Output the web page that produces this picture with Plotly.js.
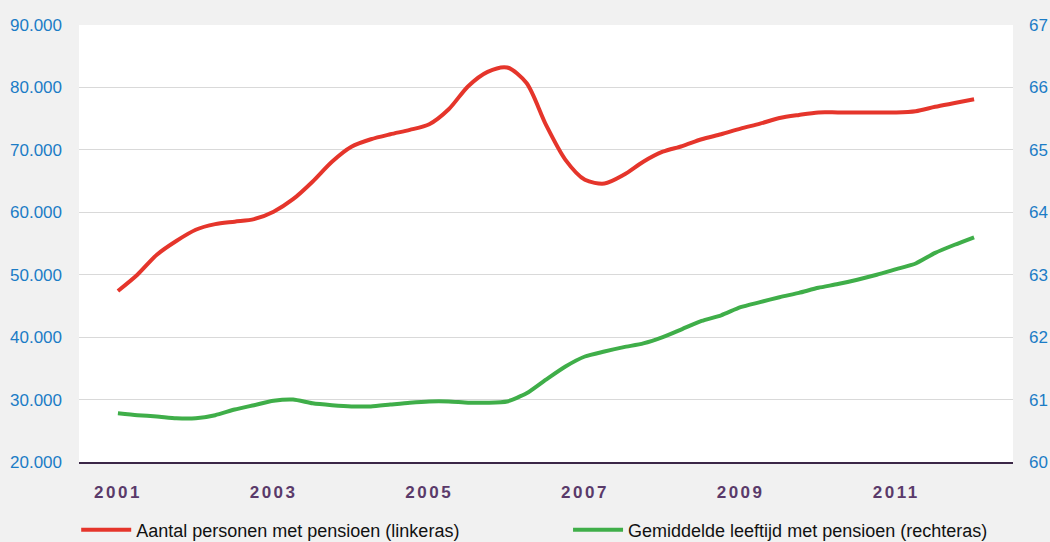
<!DOCTYPE html>
<html>
<head>
<meta charset="utf-8">
<script src="https://cdn.plot.ly/plotly-3.0.1.min.js"></script>
<style>
  body { margin: 0; background: #f1f1f1; }
  #chart { width: 1050px; height: 542px; }
  .xtick text { letter-spacing: 2.5px; }
</style>
</head>
<body>
<div id="chart"></div>
<script>
// quarters, 2001 Q1 .. 2012 Q1
var quarters = [];
for (let i = 0; i <= 44; i++) quarters.push(2001 + i * 0.25);

var personen = [
    47400, 50000, 53200, 55400, 57200, 58100, 58500, 58900, 60100, 62100,
    64900, 68100, 70500, 71700, 72500, 73200, 74100, 76500, 80200, 82500,
    83200, 80700, 74000, 68400, 65200, 64600, 66000, 68100, 69700, 70600,
    71700, 72500, 73400, 74200, 75100, 75600, 76000, 76000, 76000, 76000,
    76000, 76200, 76900, 77500, 78100
];

var leeftijd = [
    60.78, 60.75, 60.73, 60.70, 60.70, 60.75, 60.84, 60.91, 60.98, 61.00,
    60.94, 60.91, 60.89, 60.89, 60.92, 60.95, 60.97, 60.97, 60.95, 60.95,
    60.97, 61.10, 61.32, 61.53, 61.69, 61.77, 61.84, 61.90, 62.00, 62.13,
    62.26, 62.35, 62.48, 62.56, 62.64, 62.71, 62.79, 62.85, 62.92, 63.00,
    63.09, 63.18, 63.35, 63.48, 63.60
];

var yearTicks = [2001, 2003, 2005, 2007, 2009, 2011];
var yearLabels = ['2001', '2003', '2005', '2007', '2009', '2011'];

var tickBlue = '#1b7cc6';

var data = [
    {
        x: quarters,
        y: personen,
        name: 'Aantal personen met pensioen (linkeras)',
        type: 'scatter',
        mode: 'lines',
        legend: 'legend',
        line: { color: '#e5352b', width: 4, shape: 'spline', smoothing: 0.8 }
    },
    {
        x: quarters,
        y: leeftijd,
        name: 'Gemiddelde leeftijd met pensioen (rechteras)',
        type: 'scatter',
        mode: 'lines',
        yaxis: 'y2',
        legend: 'legend2',
        line: { color: '#3fae49', width: 4, shape: 'spline', smoothing: 0.6 }
    }
];

function legendAt(x) {
    return {
        orientation: 'h',
        x: x,
        xanchor: 'left',
        y: -0.156,
        yanchor: 'middle',
        itemwidth: 50,
        bgcolor: 'rgba(0,0,0,0)',
        font: { size: 18, color: '#111111' }
    };
}

var layout = {
    width: 1050,
    height: 542,
    margin: { l: 79, r: 37, t: 25, b: 80, autoexpand: false },
    paper_bgcolor: '#f1f1f1',
    plot_bgcolor: '#ffffff',
    separators: ',.',
    font: { family: 'Liberation Sans, Arial, sans-serif', size: 17, color: '#111111' },
    showlegend: true,
    legend: legendAt(-0.003),
    legend2: legendAt(0.5236),
    xaxis: {
        range: [2000.5, 2012.5],
        tickvals: yearTicks,
        ticktext: yearLabels,
        showgrid: false,
        zeroline: false,
        showline: true,
        linecolor: '#3b2747',
        linewidth: 2,
        ticks: '',
        ticklabelstandoff: 14,
        tickfont: { size: 17, color: '#5a3a6a', weight: 'bold' }
    },
    yaxis: {
        range: [20000, 90000],
        dtick: 10000,
        tickformat: ',d',
        showgrid: true,
        gridcolor: '#d9d9d9',
        gridwidth: 1,
        zeroline: false,
        showline: false,
        ticks: '',
        ticklabelstandoff: 16,
        tickfont: { size: 17, color: tickBlue }
    },
    yaxis2: {
        range: [60, 67],
        dtick: 1,
        overlaying: 'y',
        side: 'right',
        showgrid: false,
        zeroline: false,
        showline: false,
        ticks: '',
        ticklabelstandoff: 15,
        tickfont: { size: 17, color: tickBlue }
    }
};

Plotly.newPlot('chart', data, layout, { staticPlot: true });
</script>
</body>
</html>
